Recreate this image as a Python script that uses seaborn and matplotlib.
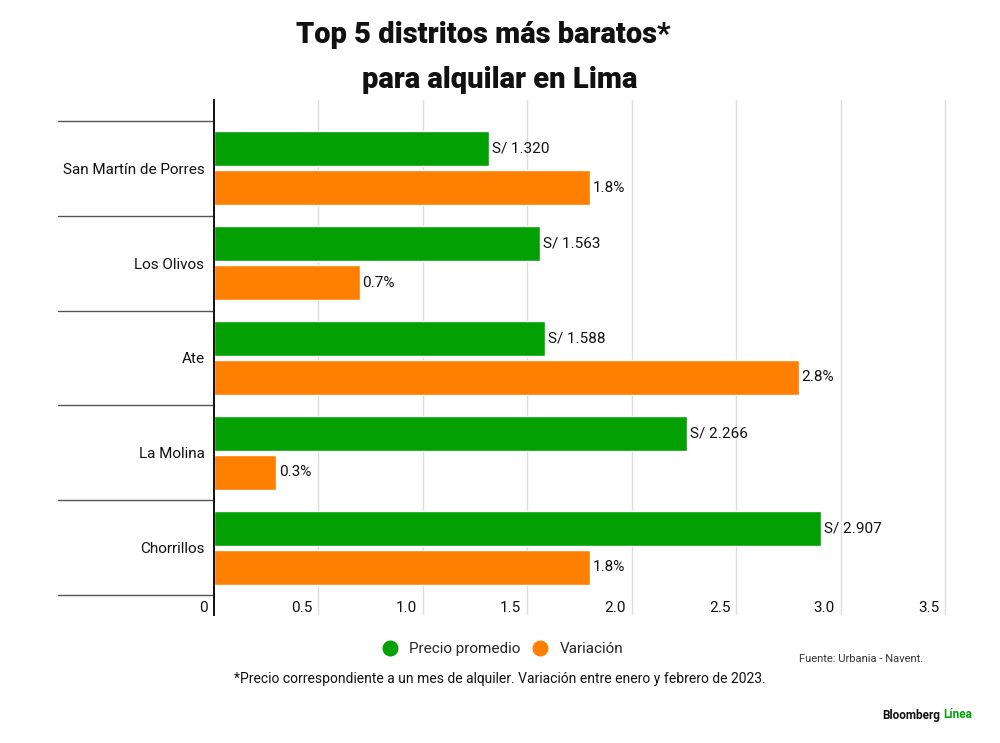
import matplotlib.pyplot as plt
import matplotlib.transforms as mtransforms
from matplotlib.lines import Line2D
import pandas as pd
import seaborn as sns

# Data
distritos = ['San Martín de Porres', 'Los Olivos', 'Ate', 'La Molina', 'Chorrillos']
precio = [1320, 1563, 1588, 2266, 2907]          # soles por mes
variacion = [1.8, 0.7, 2.8, 0.3, 1.8]            # % enero-febrero 2023
series = ['Precio promedio', 'Variación']
xticks = [0, 0.5, 1.0, 1.5, 2.0, 2.5, 3.0, 3.5]
xticklabels = ['0', '0.5', '1.0', '1.5', '2.0', '2.5', '3.0', '3.5']

GREEN = '#03a003'
ORANGE = '#ff8000'

df = pd.DataFrame({
    'distrito': distritos * 2,
    'serie': [series[0]] * 5 + [series[1]] * 5,
    'valor': [p / 1000 for p in precio] + variacion,
})

sns.set_style('white')
plt.rcParams['font.family'] = ['Roboto', 'DejaVu Sans']

fig = plt.figure(figsize=(10, 7.43), dpi=100)
ax = fig.add_axes([0.2135, 0.1723, 0.7525, 0.6931])

sns.barplot(data=df, y='distrito', x='valor', hue='serie', order=distritos,
            hue_order=series, palette=[GREEN, ORANGE], saturation=1, orient='h',
            width=0.82, gap=0.1, legend=False, ax=ax)

ax.set_xlim(0, 3.6)
ax.set_ylim(4.71, -0.72)

# labels on bars
lab_precio = ['S/ {:,}'.format(p).replace(',', '.') for p in precio]
lab_var = ['{}%'.format(v) for v in variacion]
ax.bar_label(ax.containers[0], labels=lab_precio, padding=2, fontsize=11, color='#111111')
ax.bar_label(ax.containers[1], labels=lab_var, padding=2, fontsize=11, color='#111111')

# grid
for t in xticks[1:]:
    ax.axvline(t, color='#dcdcdc', lw=1, zorder=0)

# spines
for s in ['top', 'right', 'bottom']:
    ax.spines[s].set_visible(False)
ax.spines['left'].set_color('#111111')
ax.spines['left'].set_linewidth(1.4)

# category separators to the left of the axis
trans = mtransforms.blended_transform_factory(ax.transAxes, ax.transData)
for y in [-0.5, 0.5, 1.5, 2.5, 3.5, 4.5]:
    ax.plot([-0.207, 0], [y, y], transform=trans, color='#555555', lw=1, clip_on=False)

ax.set_xlabel('')
ax.set_ylabel('')
ax.set_xticks(xticks)
ax.set_xticklabels(xticklabels)
ax.tick_params(axis='x', length=0, pad=-10, labelsize=11, labelcolor='#111111')
ax.tick_params(axis='y', length=0, pad=6.5, labelsize=11, labelcolor='#111111')
offset = mtransforms.ScaledTranslation(-4 / 72, 0, fig.dpi_scale_trans)
for lab in ax.get_xticklabels():
    lab.set_horizontalalignment('right')
    lab.set_transform(lab.get_transform() + offset)

# title
fig.text(0.483, 1 - 35 / 743, 'Top 5 distritos más baratos*', ha='center', va='center',
         fontsize=21, fontweight='heavy', color='#111111')
fig.text(0.5, 1 - 80 / 743, 'para alquilar en Lima', ha='center', va='center',
         fontsize=21, fontweight='heavy', color='#111111')

# legend
handles = [Line2D([], [], marker='o', ls='', markersize=10.5, color=GREEN),
           Line2D([], [], marker='o', ls='', markersize=10.5, color=ORANGE)]
fig.legend(handles, series, loc='center', bbox_to_anchor=(0.499, 1 - 649 / 743),
           ncol=2, frameon=False, fontsize=11, handletextpad=0.25, columnspacing=0.3)

fig.text(0.5, 1 - 679 / 743,
         '*Precio correspondiente a un mes de alquiler. Variación entre enero y febrero de 2023.',
         ha='center', va='center', fontsize=10, color='#111111')
fig.text(0.923, 1 - 659 / 743, 'Fuente: Urbania - Navent.', ha='right', va='center',
         fontsize=8, color='#333333')
fig.text(0.882, 1 - 715 / 743, 'Bloomberg', ha='left', va='center',
         fontsize=8.5, fontweight='bold', color='#111111')
fig.text(0.943, 1 - 715 / 743, 'Línea', ha='left', va='center',
         fontsize=8.5, fontweight='bold', color='#03a003')

fig.savefig('out.png', dpi=100)
